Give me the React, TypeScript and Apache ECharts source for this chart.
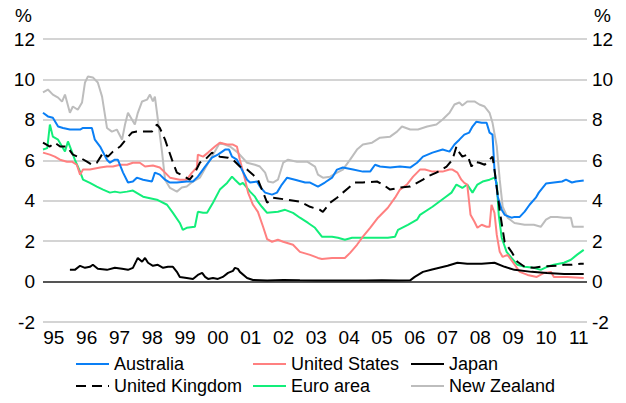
import React, { useEffect, useRef } from "react";
import * as echarts from "echarts";

const FONT = "'Liberation Sans', Arial, sans-serif";

const tickYears = [1995, 1996, 1997, 1998, 1999, 2000, 2001, 2002, 2003, 2004, 2005, 2006, 2007, 2008, 2009, 2010, 2011];
const tickLabels = ["95", "96", "97", "98", "99", "00", "01", "02", "03", "04", "05", "06", "07", "08", "09", "10", "11"];
const yTicks = [-2, 0, 2, 4, 6, 8, 10, 12];

const seriesNames = ["Australia", "United States", "Japan", "United Kingdom", "Euro area", "New Zealand"];

const australia: [number, number][] = [
  [1994.67, 8.35], [1994.82, 8.17], [1994.97, 8.1], [1995.13, 7.67], [1995.28, 7.6], [1995.49, 7.52], [1995.8, 7.52],
  [1995.89, 7.6], [1996.16, 7.6], [1996.25, 7.02], [1996.41, 6.68], [1996.62, 6.03], [1996.71, 5.88], [1996.86, 6.03],
  [1996.95, 6.03], [1997.11, 5.39], [1997.26, 4.9], [1997.41, 4.95], [1997.53, 5.14], [1997.72, 5.04], [1997.99, 4.95],
  [1998.08, 5.39], [1998.23, 5.29], [1998.39, 5.04], [1998.54, 4.9], [1998.75, 4.9], [1999.05, 4.95], [1999.24, 4.95],
  [1999.39, 5.19], [1999.61, 5.69], [1999.82, 6.13], [2000.0, 6.28], [2000.22, 6.53], [2000.34, 6.53], [2000.43, 6.18],
  [2000.58, 6.03], [2000.73, 5.54], [2000.89, 5.04], [2000.98, 4.9], [2001.19, 4.95], [2001.28, 4.7], [2001.44, 4.4],
  [2001.65, 4.3], [2001.8, 4.4], [2001.95, 4.8], [2002.11, 5.14], [2002.35, 5.04], [2002.66, 4.9], [2002.81, 4.9],
  [2003.05, 4.7], [2003.26, 4.9], [2003.48, 5.14], [2003.63, 5.54], [2003.81, 5.64], [2004.12, 5.54], [2004.42, 5.44],
  [2004.64, 5.44], [2004.79, 5.78], [2004.94, 5.69], [2005.25, 5.64], [2005.55, 5.69], [2005.86, 5.64], [2006.07, 5.88],
  [2006.25, 6.18], [2006.54, 6.38], [2006.85, 6.53], [2007.06, 6.43], [2007.21, 6.78], [2007.36, 7.02], [2007.51, 7.27],
  [2007.66, 7.37], [2007.76, 7.67], [2007.88, 7.91], [2008.04, 7.86], [2008.19, 7.86], [2008.28, 7.37], [2008.37, 7.27],
  [2008.43, 5.54], [2008.53, 4.2], [2008.65, 3.55], [2008.74, 3.3], [2008.95, 3.16], [2009.04, 3.2], [2009.2, 3.2],
  [2009.35, 3.46], [2009.5, 3.8], [2009.69, 4.15], [2009.78, 4.4], [2010.0, 4.85], [2010.24, 4.9], [2010.49, 4.95],
  [2010.61, 5.04], [2010.79, 4.9], [2010.91, 4.95], [2011.15, 5.0],
];

const unitedStates: [number, number][] = [
  [1994.67, 6.38], [1994.88, 6.28], [1995.03, 6.18], [1995.19, 6.03], [1995.4, 5.93], [1995.55, 5.93], [1995.7, 5.78],
  [1995.8, 5.29], [1995.89, 5.54], [1996.1, 5.54], [1996.41, 5.64], [1996.62, 5.69], [1996.8, 5.69], [1997.02, 5.78],
  [1997.23, 5.78], [1997.41, 5.88], [1997.62, 5.88], [1997.78, 5.69], [1998.02, 5.74], [1998.23, 5.64], [1998.39, 5.39],
  [1998.54, 5.14], [1998.84, 5.04], [1999.05, 5.04], [1999.21, 5.39], [1999.36, 5.64], [1999.39, 6.28], [1999.55, 6.18],
  [1999.7, 6.38], [1999.91, 6.68], [2000.06, 6.87], [2000.28, 6.78], [2000.46, 6.78], [2000.58, 6.68], [2000.67, 6.03],
  [2000.83, 5.04], [2000.92, 4.4], [2001.07, 3.8], [2001.22, 3.45], [2001.38, 2.7], [2001.5, 2.1], [2001.65, 1.97],
  [2001.83, 2.07], [2001.99, 1.97], [2002.29, 1.82], [2002.5, 1.47], [2002.81, 1.32], [2003.05, 1.17], [2003.17, 1.12],
  [2003.48, 1.17], [2003.87, 1.17], [2004.03, 1.42], [2004.24, 1.82], [2004.42, 2.22], [2004.64, 2.66], [2004.88, 3.16],
  [2005.18, 3.65], [2005.4, 4.15], [2005.55, 4.55], [2005.76, 4.8], [2005.95, 5.19], [2006.16, 5.54], [2006.31, 5.54],
  [2006.54, 5.44], [2006.85, 5.44], [2007.06, 5.54], [2007.15, 5.54], [2007.3, 5.39], [2007.42, 5.04], [2007.51, 4.88],
  [2007.6, 4.8], [2007.66, 3.9], [2007.7, 3.3], [2007.82, 2.96], [2007.91, 2.66], [2008.04, 2.81], [2008.19, 2.71],
  [2008.28, 2.71], [2008.34, 3.8], [2008.43, 3.4], [2008.5, 2.31], [2008.59, 1.47], [2008.68, 1.22], [2008.83, 1.32],
  [2008.98, 0.98], [2009.2, 0.48], [2009.44, 0.33], [2009.72, 0.23], [2009.94, 0.43], [2010.15, 0.48], [2010.24, 0.23],
  [2010.64, 0.23], [2011.15, 0.18],
];

const japan: [number, number][] = [
  [1995.49, 0.58], [1995.64, 0.58], [1995.8, 0.78], [1995.95, 0.68], [1996.1, 0.73], [1996.19, 0.83], [1996.34, 0.63],
  [1996.62, 0.58], [1996.86, 0.68], [1997.08, 0.63], [1997.26, 0.58], [1997.41, 0.68], [1997.56, 1.17], [1997.69, 0.98],
  [1997.78, 1.17], [1997.87, 0.93], [1998.02, 0.78], [1998.17, 0.83], [1998.33, 0.68], [1998.48, 0.73], [1998.63, 0.73],
  [1998.75, 0.48], [1998.84, 0.23], [1999.05, 0.18], [1999.24, 0.13], [1999.39, 0.33], [1999.52, 0.43], [1999.61, 0.23],
  [1999.7, 0.13], [1999.85, 0.18], [2000.0, 0.13], [2000.15, 0.23], [2000.31, 0.43], [2000.46, 0.53], [2000.52, 0.68],
  [2000.61, 0.63], [2000.67, 0.48], [2000.89, 0.18], [2001.07, 0.08], [2001.5, 0.05], [2002.0, 0.08], [2002.5, 0.06],
  [2003.0, 0.05], [2003.5, 0.05], [2004.0, 0.05], [2004.5, 0.05], [2005.0, 0.06], [2005.5, 0.05], [2005.86, 0.06],
  [2006.0, 0.23], [2006.25, 0.48], [2006.53, 0.6], [2007.0, 0.78], [2007.3, 0.93], [2007.6, 0.88], [2008.04, 0.88],
  [2008.43, 0.93], [2008.74, 0.73], [2009.04, 0.58], [2009.56, 0.48], [2010.03, 0.43], [2010.55, 0.38], [2011.15, 0.38],
];

const unitedKingdom: [number, number][] = [
  [1994.67, 6.87], [1994.88, 6.68], [1995.03, 6.87], [1995.19, 6.68], [1995.4, 6.68], [1995.58, 6.28], [1995.8, 6.13],
  [1996.01, 5.93], [1996.16, 5.78], [1996.31, 5.88], [1996.41, 6.13], [1996.5, 6.38], [1996.65, 6.18], [1996.8, 6.43],
  [1997.02, 6.68], [1997.23, 7.1], [1997.38, 7.37], [1997.53, 7.42], [1997.72, 7.42], [1997.99, 7.42], [1998.14, 7.77],
  [1998.23, 7.6], [1998.39, 7.02], [1998.6, 6.03], [1998.75, 5.39], [1998.99, 5.19], [1999.14, 5.04], [1999.3, 5.39],
  [1999.45, 5.88], [1999.61, 6.03], [1999.82, 6.38], [2000.06, 6.18], [2000.31, 6.13], [2000.46, 6.03], [2000.67, 5.69],
  [2000.89, 5.54], [2001.07, 5.29], [2001.22, 5.04], [2001.38, 4.4], [2001.5, 3.9], [2001.68, 4.15], [2002.11, 4.05],
  [2002.5, 3.95], [2002.81, 3.7], [2003.11, 3.55], [2003.2, 3.45], [2003.42, 3.9], [2003.63, 4.15], [2003.81, 4.4],
  [2004.03, 4.7], [2004.18, 4.9], [2004.42, 4.9], [2004.85, 4.95], [2005.03, 4.8], [2005.25, 4.55], [2005.55, 4.65],
  [2005.86, 4.7], [2006.25, 5.04], [2006.38, 5.19], [2006.66, 5.39], [2006.97, 5.69], [2007.15, 6.03], [2007.27, 6.68],
  [2007.36, 6.38], [2007.45, 6.18], [2007.6, 6.28], [2007.73, 5.69], [2007.82, 5.93], [2007.97, 5.88], [2008.13, 5.78],
  [2008.28, 6.03], [2008.37, 6.18], [2008.43, 5.54], [2008.59, 3.5], [2008.74, 1.96], [2008.95, 1.47], [2009.13, 0.98],
  [2009.35, 0.73], [2009.63, 0.68], [2009.9, 0.75], [2010.34, 0.78], [2010.55, 0.83], [2010.76, 0.83], [2011.06, 0.88],
  [2011.15, 0.88],
];

const euroArea: [number, number][] = [
  [1994.67, 6.53], [1994.8, 6.6], [1994.88, 7.77], [1994.97, 7.17], [1995.13, 7.02], [1995.25, 6.68], [1995.34, 6.43],
  [1995.43, 6.93], [1995.55, 6.43], [1995.64, 6.03], [1995.8, 5.44], [1995.89, 5.04], [1996.1, 4.88], [1996.31, 4.7],
  [1996.5, 4.55], [1996.71, 4.4], [1996.86, 4.45], [1997.02, 4.4], [1997.23, 4.45], [1997.41, 4.5], [1997.72, 4.2],
  [1998.14, 4.05], [1998.45, 3.8], [1998.63, 3.4], [1998.84, 2.9], [1998.93, 2.56], [1999.05, 2.66], [1999.3, 2.71],
  [1999.39, 3.45], [1999.55, 3.4], [1999.67, 3.4], [1999.85, 3.9], [2000.06, 4.55], [2000.28, 4.88], [2000.43, 5.19],
  [2000.52, 5.04], [2000.67, 4.8], [2000.76, 4.88], [2000.89, 4.63], [2000.98, 4.45], [2001.13, 4.2], [2001.22, 3.95],
  [2001.34, 3.7], [2001.5, 3.4], [2001.83, 3.45], [2002.05, 3.55], [2002.29, 3.4], [2002.5, 3.16], [2002.75, 2.9],
  [2002.96, 2.66], [2003.17, 2.22], [2003.48, 2.22], [2003.66, 2.17], [2003.87, 2.07], [2004.09, 2.17], [2004.39, 2.17],
  [2004.79, 2.17], [2005.18, 2.17], [2005.4, 2.22], [2005.49, 2.56], [2005.79, 2.81], [2006.07, 3.06], [2006.16, 3.3],
  [2006.54, 3.7], [2006.91, 4.15], [2007.12, 4.4], [2007.27, 4.8], [2007.45, 4.63], [2007.6, 4.8], [2007.76, 4.4],
  [2007.91, 4.8], [2008.07, 4.95], [2008.28, 5.04], [2008.43, 5.14], [2008.5, 4.88], [2008.56, 3.3], [2008.65, 2.17],
  [2008.8, 1.47], [2008.95, 1.17], [2009.13, 0.83], [2009.35, 0.73], [2009.63, 0.68], [2009.84, 0.58], [2010.03, 0.73],
  [2010.24, 0.83], [2010.55, 0.93], [2010.76, 1.08], [2010.94, 1.32], [2011.15, 1.57],
];

const newZealand: [number, number][] = [
  [1994.67, 9.36], [1994.82, 9.5], [1994.97, 9.25], [1995.13, 9.1], [1995.25, 8.9], [1995.34, 9.25], [1995.49, 8.35],
  [1995.58, 8.66], [1995.73, 8.5], [1995.86, 8.86], [1995.95, 9.85], [1996.04, 10.15], [1996.19, 10.1], [1996.34, 9.85],
  [1996.47, 9.15], [1996.62, 7.6], [1996.77, 7.42], [1996.92, 7.52], [1997.08, 7.02], [1997.17, 7.77], [1997.26, 8.35],
  [1997.38, 8.02], [1997.47, 7.77], [1997.56, 8.35], [1997.69, 8.91], [1997.84, 9.0], [1997.93, 9.25], [1998.02, 8.91],
  [1998.08, 9.15], [1998.17, 8.02], [1998.3, 6.38], [1998.39, 5.04], [1998.54, 4.63], [1998.75, 4.45], [1998.9, 4.65],
  [1999.05, 4.7], [1999.24, 4.95], [1999.45, 5.14], [1999.76, 6.03], [2000.06, 6.87], [2000.37, 6.68], [2000.61, 6.38],
  [2000.89, 5.88], [2001.13, 5.78], [2001.28, 5.69], [2001.44, 5.39], [2001.53, 4.95], [2001.68, 4.9], [2001.83, 5.04],
  [2001.99, 5.88], [2002.14, 6.03], [2002.41, 5.93], [2002.72, 5.93], [2002.96, 5.69], [2003.05, 5.29], [2003.2, 5.14],
  [2003.42, 5.19], [2003.63, 5.39], [2003.81, 5.54], [2004.03, 6.03], [2004.24, 6.53], [2004.42, 6.78], [2004.7, 6.87],
  [2004.94, 7.12], [2005.25, 7.17], [2005.46, 7.42], [2005.61, 7.67], [2005.86, 7.52], [2006.1, 7.52], [2006.38, 7.67],
  [2006.66, 7.77], [2006.85, 8.02], [2007.06, 8.35], [2007.21, 8.76], [2007.36, 8.86], [2007.45, 8.71], [2007.6, 8.91],
  [2007.82, 8.91], [2007.97, 8.76], [2008.13, 8.66], [2008.28, 8.35], [2008.37, 7.86], [2008.5, 6.68], [2008.59, 5.04],
  [2008.68, 3.7], [2008.83, 3.16], [2009.04, 2.9], [2009.35, 2.81], [2009.63, 2.81], [2009.84, 2.71], [2010.0, 3.06],
  [2010.15, 3.2], [2010.34, 3.2], [2010.55, 3.16], [2010.76, 3.16], [2010.82, 2.71], [2011.15, 2.71],
];

export default function App() {
  const ref = useRef<HTMLDivElement>(null);

  useEffect(() => {
    if (!ref.current) return;
    const chart = echarts.init(ref.current, undefined, { renderer: "svg" });
    const txt = { fontFamily: FONT, fontSize: 19, color: "#000" };
    const line = (name: string, data: [number, number][], color: string, extra: any = {}) => ({
      name,
      type: "line",
      data,
      showSymbol: false,
      symbol: "circle",
      symbolSize: 0,
      lineStyle: { color, width: 2, ...(extra.lineStyle || {}) },
      itemStyle: { color },
      z: extra.z ?? 2,
      ...(extra.markLine ? { markLine: extra.markLine } : {}),
    });
    const legendBase = {
      orient: "vertical",
      top: 355,
      itemWidth: 33,
      itemHeight: 14,
      itemGap: 4,
      itemStyle: { opacity: 0 },
      textStyle: { fontFamily: FONT, fontSize: 18, color: "#000" },
      padding: 0,
    };
    chart.setOption({
      animation: false,
      backgroundColor: "#fff",
      textStyle: { fontFamily: FONT },
      grid: { left: 43, right: 39, top: 39, bottom: 81, containLabel: false },
      graphic: [
        { type: "text", left: 15, top: 6, style: { text: "%", font: `19px ${FONT}`, fill: "#000" } },
        { type: "text", left: 594, top: 6, style: { text: "%", font: `19px ${FONT}`, fill: "#000" } },
      ],
      legend: [
        { ...legendBase, left: 75, data: [seriesNames[0], seriesNames[3]] },
        { ...legendBase, left: 252, data: [seriesNames[1], seriesNames[4]] },
        { ...legendBase, left: 410, data: [seriesNames[2], seriesNames[5]] },
      ],
      xAxis: {
        type: "value",
        min: 1994.67,
        max: 2011.25,
        axisLine: { show: false },
        axisTick: { show: false },
        splitLine: { show: false },
        axisLabel: {
          ...txt,
          margin: 6,
          customValues: tickYears,
          formatter: (v: number) => {
            const i = tickYears.indexOf(Math.round(v));
            return i >= 0 ? tickLabels[i] : "";
          },
        },
      },
      yAxis: [
        {
          type: "value",
          min: yTicks[0],
          max: yTicks[yTicks.length - 1],
          interval: 2,
          position: "left",
          axisLine: { show: false },
          axisTick: { show: false },
          axisLabel: { ...txt, margin: 8 },
          splitLine: { lineStyle: { color: "#c6c6c6", width: 1.5 } },
        },
        {
          type: "value",
          min: yTicks[0],
          max: yTicks[yTicks.length - 1],
          interval: 2,
          position: "right",
          axisLine: { show: false },
          axisTick: { show: false },
          axisLabel: { ...txt, margin: 5 },
          splitLine: { show: false },
        },
      ],
      series: [
        line(seriesNames[5], newZealand, "#bdbdbd", {
          z: 2,
          markLine: {
            silent: true,
            symbol: "none",
            label: { show: false },
            lineStyle: { color: "#555", width: 2, type: "solid" },
            data: [{ yAxis: 0 }],
          },
        }),
        line(seriesNames[4], euroArea, "#12ee7a", { z: 3 }),
        line(seriesNames[1], unitedStates, "#ff8080", { z: 4 }),
        line(seriesNames[0], australia, "#0a7ff5", { z: 5 }),
        line(seriesNames[2], japan, "#000000", { z: 6 }),
        line(seriesNames[3], unitedKingdom, "#000000", { z: 7, lineStyle: { type: [10, 6] } }),
      ],
    });
    return () => chart.dispose();
  }, []);

  return <div ref={ref} style={{ position: "fixed", left: 0, top: 0, width: 626, height: 403 }} />;
}
